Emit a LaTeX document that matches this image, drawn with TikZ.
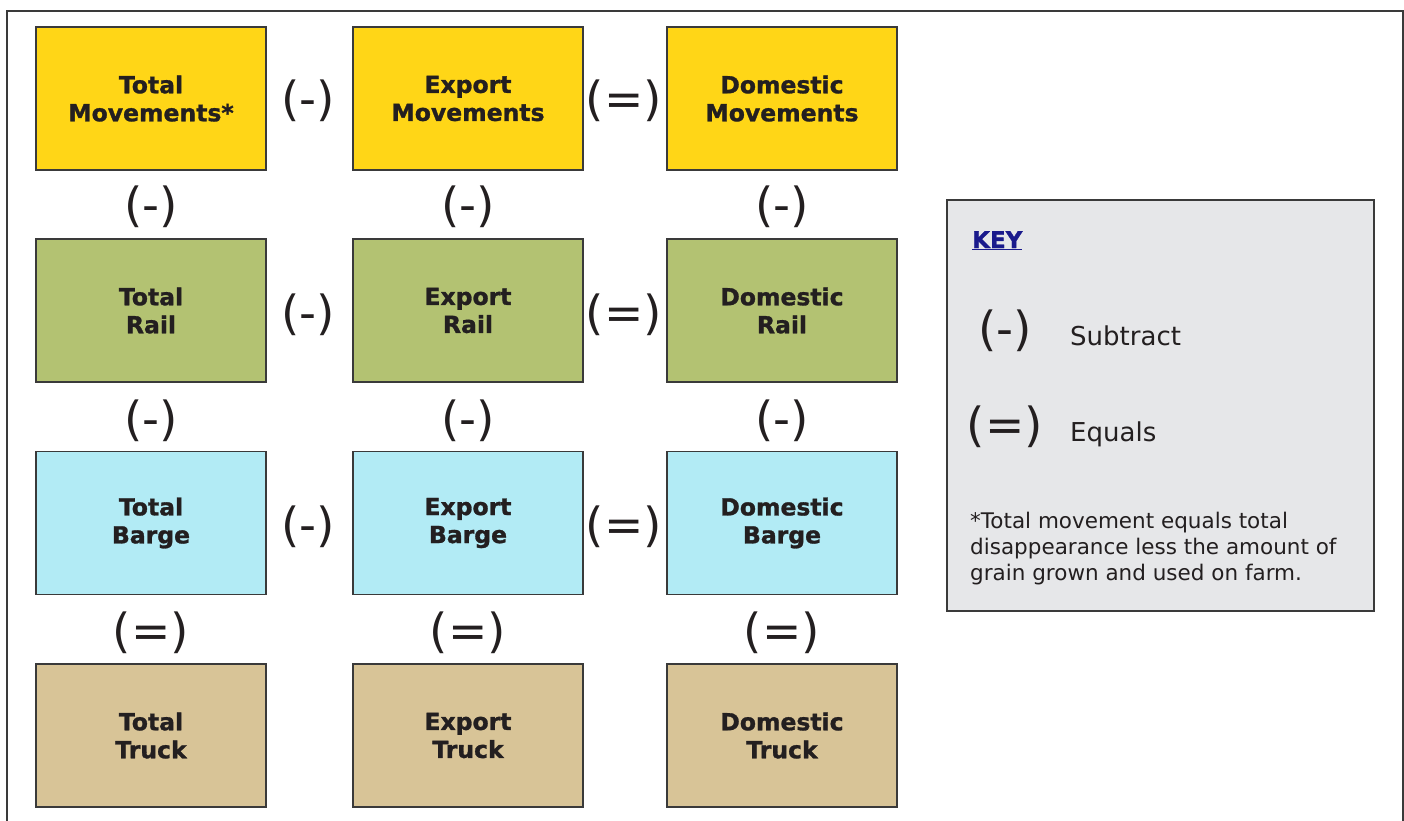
\documentclass[tikz,border=0pt]{standalone}
\usepackage{fontspec}
\setmainfont{DejaVu Sans}[BoldFeatures={FakeBold=1.2}]
\definecolor{tyellow}{HTML}{FFD617}
\definecolor{tgreen}{HTML}{B3C272}
\definecolor{tcyan}{HTML}{B2EBF5}
\definecolor{ttan}{HTML}{D8C497}
\definecolor{tkey}{HTML}{E6E7E9}
\definecolor{tink}{HTML}{231F20}
\definecolor{tline}{HTML}{3A3A3A}
\definecolor{tnavy}{HTML}{1A1A8C}
\tikzset{
  x=1pt, y=-1pt,
  cell/.style={draw=tline, line width=1.2pt, minimum width=230pt, minimum height=143pt, inner sep=0pt,
    align=center, text=tink, font=\fontsize{23.5}{28}\selectfont\bfseries},
  op/.style={text=tink, inner sep=0pt, font=\fontsize{47}{47}\selectfont},
  keyop/.style={text=tink, inner sep=0pt, font=\fontsize{47}{47}\selectfont},
  keytxt/.style={text=tink, inner sep=0pt, anchor=base west, font=\fontsize{26}{26}\selectfont},
}
\begin{document}
\begin{tikzpicture}
\useasboundingbox (0,0) rectangle (1404,821);
\fill[white] (0,0) rectangle (1404,821);
% outer frame
\draw[tline, line width=2pt] (7,821) -- (7,11) -- (1403,11) -- (1403,821);

% boxes
\node[cell, fill=tyellow] (tm) at (151,98.5) {Total\\Movements*};
\node[cell, fill=tyellow] (em) at (468,98.5) {Export\\Movements};
\node[cell, fill=tyellow] (dm) at (782,98.5) {Domestic\\Movements};
\node[cell, fill=tgreen] (tr) at (151,310.5) {Total\\Rail};
\node[cell, fill=tgreen] (er) at (468,310.5) {Export\\Rail};
\node[cell, fill=tgreen] (dr) at (782,310.5) {Domestic\\Rail};
\node[cell, fill=tcyan] (tb) at (151,523) {Total\\Barge};
\node[cell, fill=tcyan] (eb) at (468,523) {Export\\Barge};
\node[cell, fill=tcyan] (db) at (782,523) {Domestic\\Barge};
\node[cell, fill=ttan] (tt) at (151,735.5) {Total\\Truck};
\node[cell, fill=ttan] (et) at (468,735.5) {Export\\Truck};
\node[cell, fill=ttan] (dt) at (782,735.5) {Domestic\\Truck};

% horizontal operators
\foreach \r/\y in {1/101,2/315,3/527}{
  \node[op] (h1\r) at (308,\y) {(-)};
  \node[op] (h2\r) at (624,\y) {(=)};
}
% vertical operators
\foreach \c/\x in {1/151,2/468,3/782}{
  \node[op] (v1\c) at (\x,207) {(-)};
  \node[op] (v2\c) at (\x,421) {(-)};
  \node[op] (v3\c) at (\x,633) {(=)};
}

% key
\node[draw=tline, line width=1.2pt, fill=tkey, minimum width=427pt, minimum height=411pt, inner sep=0pt] (key) at (1160.5,405.5) {};
\node[anchor=base west, inner sep=0pt, text=tnavy, font=\fontsize{23}{23}\selectfont\bfseries] (kt) at (972,248) {\underline{KEY}};
\node[keyop] (ks) at (1005,331) {(-)};
\node[keytxt] (kst) at (1070,345) {Subtract};
\node[keyop] (ke) at (1005,427) {(=)};
\node[keytxt] (ket) at (1070,441) {Equals};
\node[anchor=north west, inner sep=0pt, align=left, text=tink, font=\fontsize{21.5}{26}\selectfont] (foot) at (970,512)
  {*Total movement equals total\\disappearance less the amount of\\grain grown and used on farm.};
\end{tikzpicture}
\end{document}
